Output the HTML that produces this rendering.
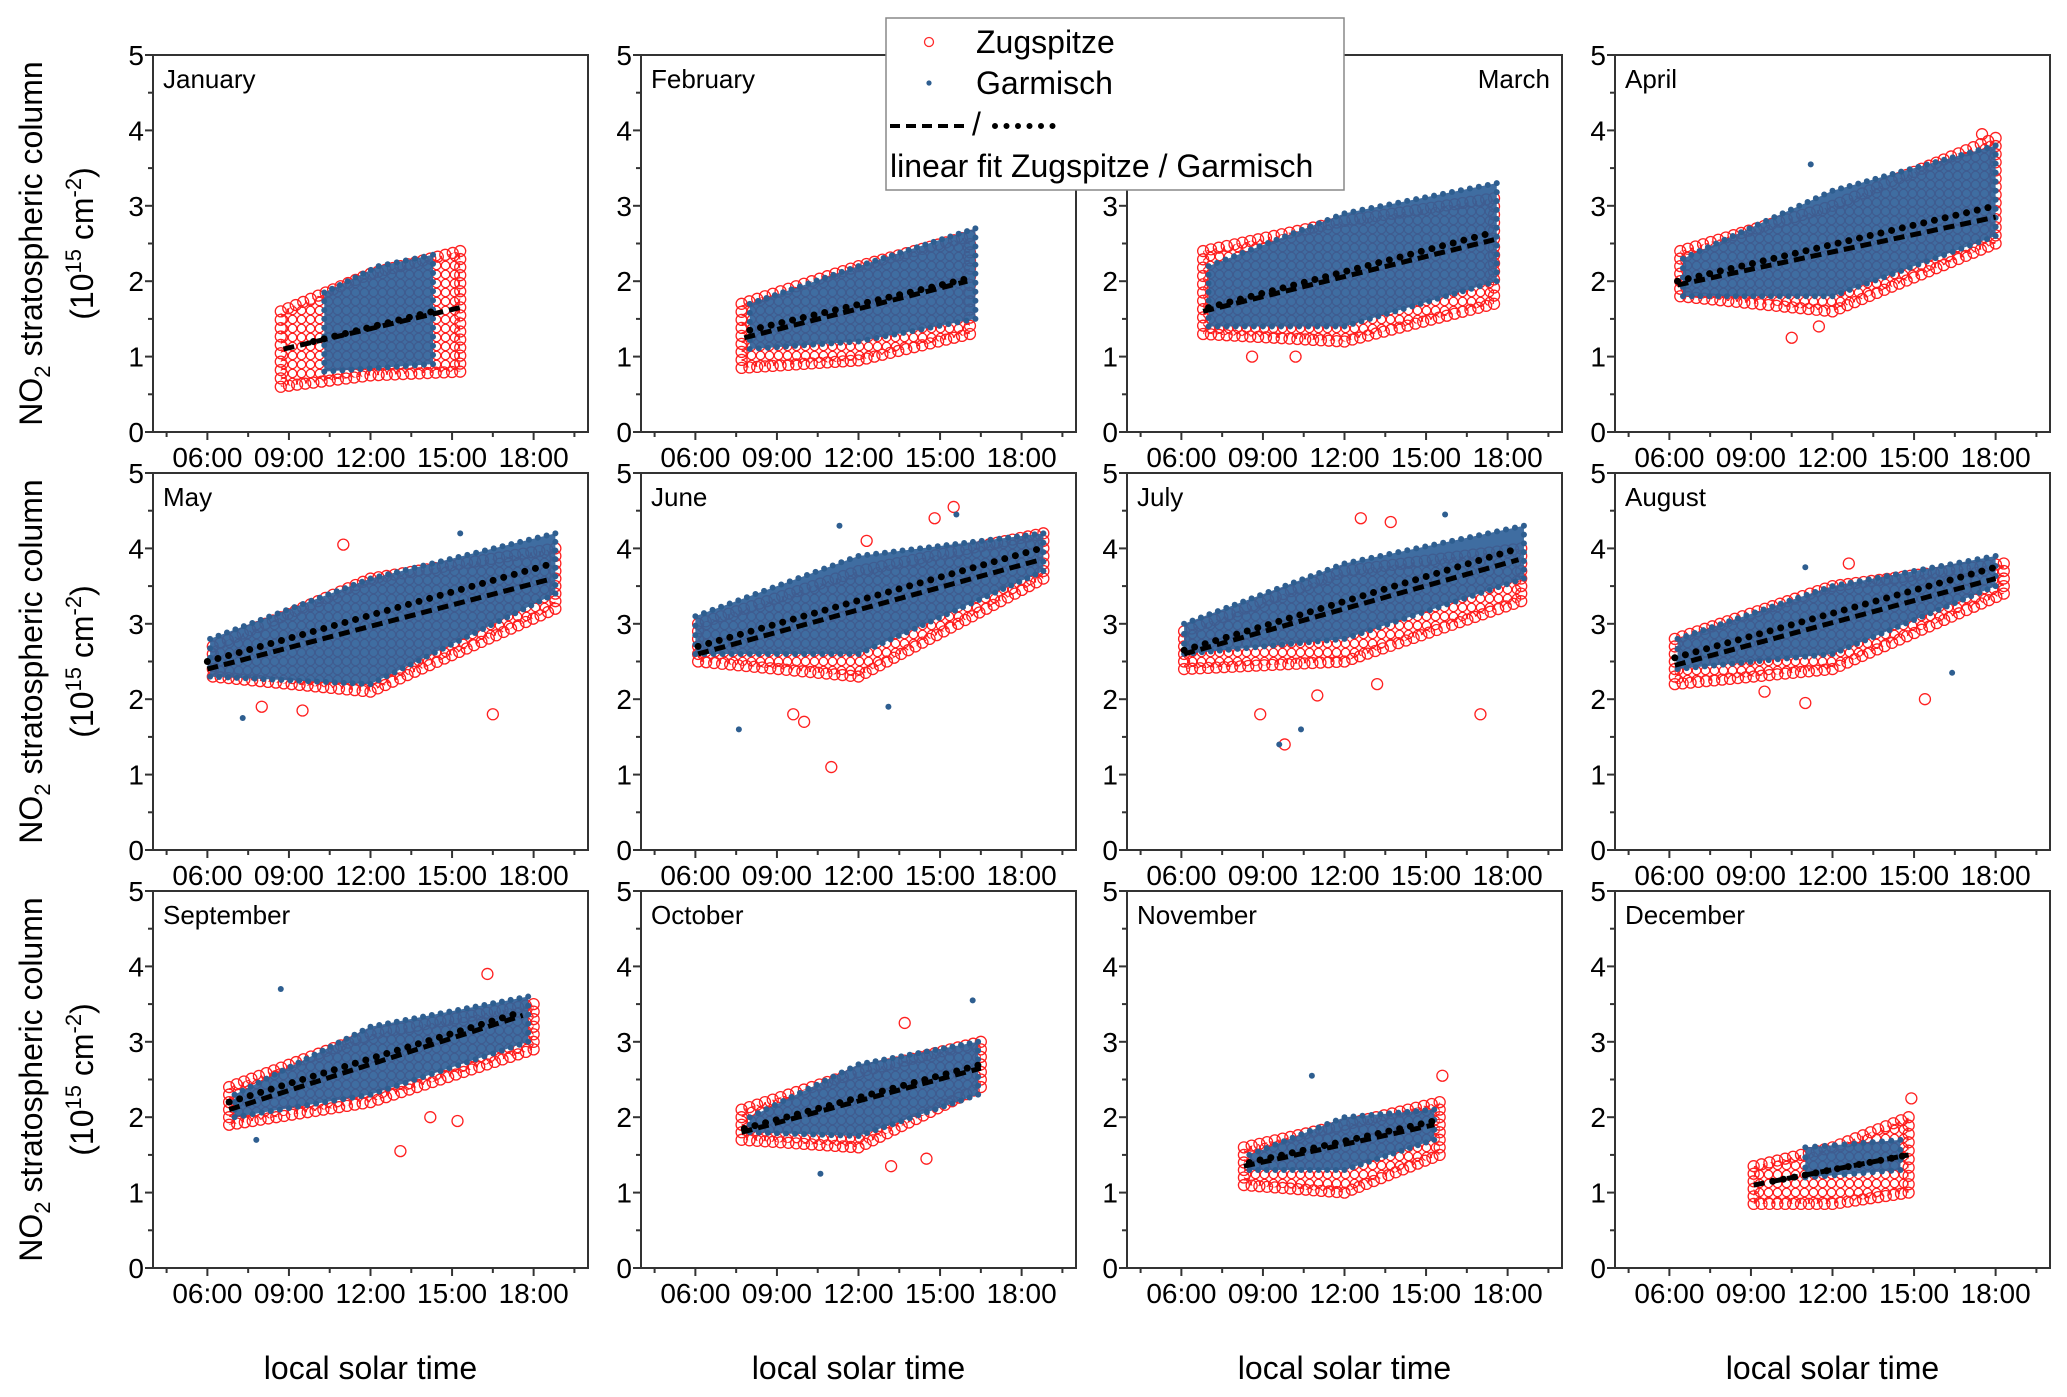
<!DOCTYPE html>
<html><head><meta charset="utf-8"><title>NO2 stratospheric column by month</title>
<style>
html,body{margin:0;padding:0;background:#fff;}
svg{display:block;font-family:"Liberation Sans",Arial,sans-serif;}
</style></head>
<body>
<svg id="fig" width="2067" height="1397" viewBox="0 0 2067 1397" xmlns="http://www.w3.org/2000/svg">
<defs>
<pattern id="redcircles" width="9" height="9" patternUnits="userSpaceOnUse">
<rect width="9" height="9" fill="#fff"/>
<circle cx="4.5" cy="4.5" r="4.2" fill="none" stroke="#ff1a1a" stroke-width="1.2"/>
</pattern>
</defs>
<g id="panels"></g>
<g id="legend">
<rect x="886" y="18" width="458" height="172" fill="#fff" stroke="#888" stroke-width="1.5"/>
<circle cx="929" cy="42" r="4.5" fill="none" stroke="#ff2a2a" stroke-width="1.3"/>
<text x="976" y="53" font-size="32">Zugspitze</text>
<circle cx="929" cy="83" r="2.6" fill="#2e5e90"/>
<text x="976" y="94" font-size="32">Garmisch</text>
<line x1="890" y1="126" x2="970" y2="126" stroke="#000" stroke-width="4" stroke-dasharray="10 6"/>
<text x="972" y="135" font-size="32">/</text>
<line x1="995" y1="126" x2="1064" y2="126" stroke="#000" stroke-width="6" stroke-linecap="round" stroke-dasharray="0 11.5"/>
<text x="890" y="177" font-size="32">linear fit Zugspitze / Garmisch</text>
</g>
</svg>
<script>
const months=["January","February","March","April","May","June","July","August","September","October","November","December"];
// Zugspitze envelope: times [start, mid, end] (hours), lower and upper bounds (1e15 cm-2)
const zTime=[[8.7,12,15.3],[7.7,12,16.1],[6.8,12,17.5],[6.4,12,18],[6.2,12,18.8],[6.1,12,18.8],[6.1,12,18.5],[6.2,12,18.3],[6.8,12,18],[7.7,12,16.5],[8.3,12,15.5],[9.1,12,14.8]];
const zLo=[[0.6,0.75,0.8],[0.85,0.95,1.3],[1.3,1.2,1.7],[1.8,1.6,2.5],[2.3,2.1,3.2],[2.5,2.3,3.6],[2.4,2.5,3.3],[2.2,2.4,3.4],[1.9,2.2,2.9],[1.7,1.6,2.4],[1.1,1.0,1.5],[0.85,0.85,1.0]];
const zHi=[[1.6,2.1,2.4],[1.7,2.2,2.6],[2.4,2.8,3.1],[2.4,3.0,3.9],[2.7,3.6,4.0],[3.0,3.7,4.2],[2.9,3.7,4.0],[2.8,3.5,3.8],[2.4,3.1,3.5],[2.1,2.6,3.0],[1.6,1.9,2.2],[1.35,1.6,2.0]];
// Garmisch envelope
const gTime=[[10.3,12.3,14.3],[8,12,16.3],[7,12,17.6],[6.5,12,18],[6.1,12,18.8],[6,12,18.8],[6.1,12,18.6],[6.3,12,18],[7,12,17.8],[8,12,16.4],[8.5,12,15.3],[11,12.8,14.5]];
const gLo=[[0.8,0.85,0.9],[1.1,1.2,1.5],[1.4,1.4,2.0],[1.8,1.8,2.6],[2.3,2.2,3.4],[2.6,2.6,3.7],[2.6,2.8,3.6],[2.4,2.6,3.5],[2.0,2.3,3.0],[1.8,1.75,2.3],[1.3,1.3,1.7],[1.2,1.25,1.3]];
const gHi=[[1.85,2.2,2.35],[1.7,2.2,2.7],[2.2,2.9,3.3],[2.3,3.2,3.8],[2.8,3.6,4.2],[3.1,3.9,4.2],[3.0,3.8,4.3],[2.8,3.5,3.9],[2.3,3.2,3.6],[2.0,2.7,3.0],[1.5,2.0,2.1],[1.6,1.65,1.7]];
// linear fits [t0,t1] and [v0,v1]
const zFitT=[[8.8,15.3],[7.8,16],[6.8,17.5],[6.3,18],[6,18.7],[6.1,18.7],[6.1,18.4],[6.2,18],[6.8,17.6],[7.7,16.5],[8.3,15.3],[9.1,14.8]];
const zFitV=[[1.1,1.65],[1.25,2.0],[1.6,2.55],[1.95,2.85],[2.4,3.6],[2.6,3.85],[2.6,3.85],[2.45,3.6],[2.1,3.35],[1.8,2.65],[1.35,1.9],[1.1,1.5]];
const gFitT=[[9.9,14.3],[8,16.2],[7,17.5],[6.3,18],[6,18.7],[6.1,18.7],[6.1,18.4],[6.2,18],[6.8,17.6],[7.8,16.5],[8.5,15.3],[9.8,14.8]];
const gFitV=[[1.2,1.6],[1.35,2.05],[1.65,2.65],[2.0,3.0],[2.5,3.8],[2.7,4.0],[2.65,4.0],[2.55,3.75],[2.2,3.4],[1.85,2.7],[1.4,1.95],[1.15,1.5]];
// outliers [month index, time, value]
const outZ=[[2,8.6,1.0],[2,10.2,1.0],[3,10.5,1.25],[3,11.5,1.4],[3,17.5,3.95],[4,16.5,1.8],[4,8,1.9],[4,9.5,1.85],[4,11,4.05],[5,11,1.1],[5,10,1.7],[5,9.6,1.8],[5,15.5,4.55],[5,12.3,4.1],[5,14.8,4.4],[6,9.8,1.4],[6,17,1.8],[6,8.9,1.8],[6,11,2.05],[6,13.2,2.2],[6,12.6,4.4],[6,13.7,4.35],[7,11,1.95],[7,15.4,2.0],[7,9.5,2.1],[7,12.6,3.8],[8,13.1,1.55],[8,15.2,1.95],[8,14.2,2.0],[8,16.3,3.9],[9,13.2,1.35],[9,14.5,1.45],[9,13.7,3.25],[10,15.6,2.55],[11,14.9,2.25]];
const outG=[[3,11.2,3.55],[5,7.6,1.6],[5,13.1,1.9],[5,15.6,4.45],[5,11.3,4.3],[6,9.6,1.4],[6,10.4,1.6],[6,15.7,4.45],[7,16.4,2.35],[7,11,3.75],[8,8.7,3.7],[8,7.8,1.7],[9,10.6,1.25],[9,16.2,3.55],[10,10.8,2.55],[4,15.3,4.2],[4,7.3,1.75]];

const NS="http://www.w3.org/2000/svg";
const colX=[153,641,1127,1615], rowY=[55,473,891], PW=435, PH=377;
const tMin=4, tMax=20, vMax=5;
const root=document.getElementById('panels');
function mk(tag,attrs,parent){const e=document.createElementNS(NS,tag);for(const k in attrs)e.setAttribute(k,attrs[k]);parent.appendChild(e);return e;}

for(let m=0;m<12;m++){
  const c=m%4, r=Math.floor(m/4), L=colX[c], T=rowY[r];
  const xs=t=>L+(t-tMin)/(tMax-tMin)*PW;
  const ys=v=>T+PH-v/vMax*PH;
  const g=mk('g',{},root);
  
  
  const fr=mk('rect',{x:L,y:T,width:PW,height:PH,fill:'#fff',stroke:'#333','stroke-width':2},g);
  
  
  for(let i=0;i<=10;i++){const v=i*0.5,y=ys(v);mk('line',{x1:L-(i%2?5:8),y1:y,x2:L,y2:y,stroke:'#333','stroke-width':2},g);
    if(i%2===0){const tx=mk('text',{x:L-9,y:y+10,'font-size':28,'text-anchor':'end'},g);tx.textContent=String(v);
      
      }}
  for(let h=4.5;h<20;h+=1.5){const x=xs(h);const major=(h%3===0);mk('line',{x1:x,y1:T+PH,x2:x,y2:T+PH+(major?8:5),stroke:'#333','stroke-width':2},g);
    if(major&&h>=6&&h<=18){const tx=mk('text',{x:x,y:T+PH+35,'font-size':28,'text-anchor':'middle'},g);tx.textContent=(h<10?'0':'')+h+':00';
      
      }}
  const ml=mk('text',{x:m===2?L+PW-12:L+10,y:T+33,'font-size':26,'text-anchor':m===2?'end':'start'},g);
  ml.textContent=months[m];
  
  
  function env(time,lo,hi){const pts=[];for(let i=0;i<time.length;i++)pts.push([xs(time[i]),ys(hi[i])]);for(let i=time.length-1;i>=0;i--)pts.push([xs(time[i]),ys(lo[i])]);return pts;}
  function edgeMarks(pts,fn,step){for(let i=0;i<pts.length;i++){const a=pts[i],b=pts[(i+1)%pts.length];const d=Math.hypot(b[0]-a[0],b[1]-a[1]);const n=Math.max(1,Math.round(d/step));for(let k=0;k<n;k++)fn(a[0]+(b[0]-a[0])*k/n,a[1]+(b[1]-a[1])*k/n);}}
  const zp=env(zTime[m],zLo[m],zHi[m]);
  const zpoly=mk('polygon',{points:zp.map(p=>p.join(',')).join(' '),fill:'url(#redcircles)',stroke:'none'},g);
  
  
  edgeMarks(zp,(x,y)=>{mk('circle',{cx:x,cy:y,r:5.5,fill:'none',stroke:'#ff2020','stroke-width':1.3},g);},8);
  const gp=env(gTime[m],gLo[m],gHi[m]);
  const gpoly=mk('polygon',{points:gp.map(p=>p.join(',')).join(' '),fill:'#30629a',stroke:'none','fill-opacity':0.93},g);
  
  
  edgeMarks(gp,(x,y)=>{mk('circle',{cx:x,cy:y,r:3,fill:'#2e5e90'},g);},9);
  outZ.filter(o=>o[0]===m).forEach(o=>{const e=mk('circle',{cx:xs(o[1]),cy:ys(o[2]),r:5.5,fill:'none',stroke:'#ff2020','stroke-width':1.3},g);
    
    });
  outG.filter(o=>o[0]===m).forEach(o=>{const e=mk('circle',{cx:xs(o[1]),cy:ys(o[2]),r:3,fill:'#2e5e90'},g);
    
    });
  const fz=mk('line',{x1:xs(zFitT[m][0]),y1:ys(zFitV[m][0]),x2:xs(zFitT[m][1]),y2:ys(zFitV[m][1]),stroke:'#000','stroke-width':5,'stroke-dasharray':'11 6'},g);
  
  
  const fg=mk('line',{x1:xs(gFitT[m][0]),y1:ys(gFitV[m][0]),x2:xs(gFitT[m][1]),y2:ys(gFitV[m][1]),stroke:'#000','stroke-width':7,'stroke-linecap':'round','stroke-dasharray':'0 11'},g);
  
  
}
for(let r=0;r<3;r++){
  const cy=rowY[r]+PH/2;
  const t1=mk('text',{x:0,y:0,'font-size':32,'text-anchor':'middle',transform:`translate(42,${cy}) rotate(-90)`},root);
  t1.innerHTML='NO<tspan font-size="22" dy="8">2</tspan><tspan dy="-8"> stratospheric column</tspan>';
  
  
  const t2=mk('text',{x:0,y:0,'font-size':32,'text-anchor':'middle',transform:`translate(93,${cy}) rotate(-90)`},root);
  t2.innerHTML='(10<tspan font-size="22" dy="-12">15</tspan><tspan dy="12"> cm</tspan><tspan font-size="22" dy="-12">-2</tspan><tspan dy="12">)</tspan>';
  
  
}
for(let c=0;c<4;c++){
  const t=mk('text',{x:colX[c]+PW/2,y:1379,'font-size':32,'text-anchor':'middle'},root);
  t.textContent='local solar time';
  
  
}
</script>
</body></html>
